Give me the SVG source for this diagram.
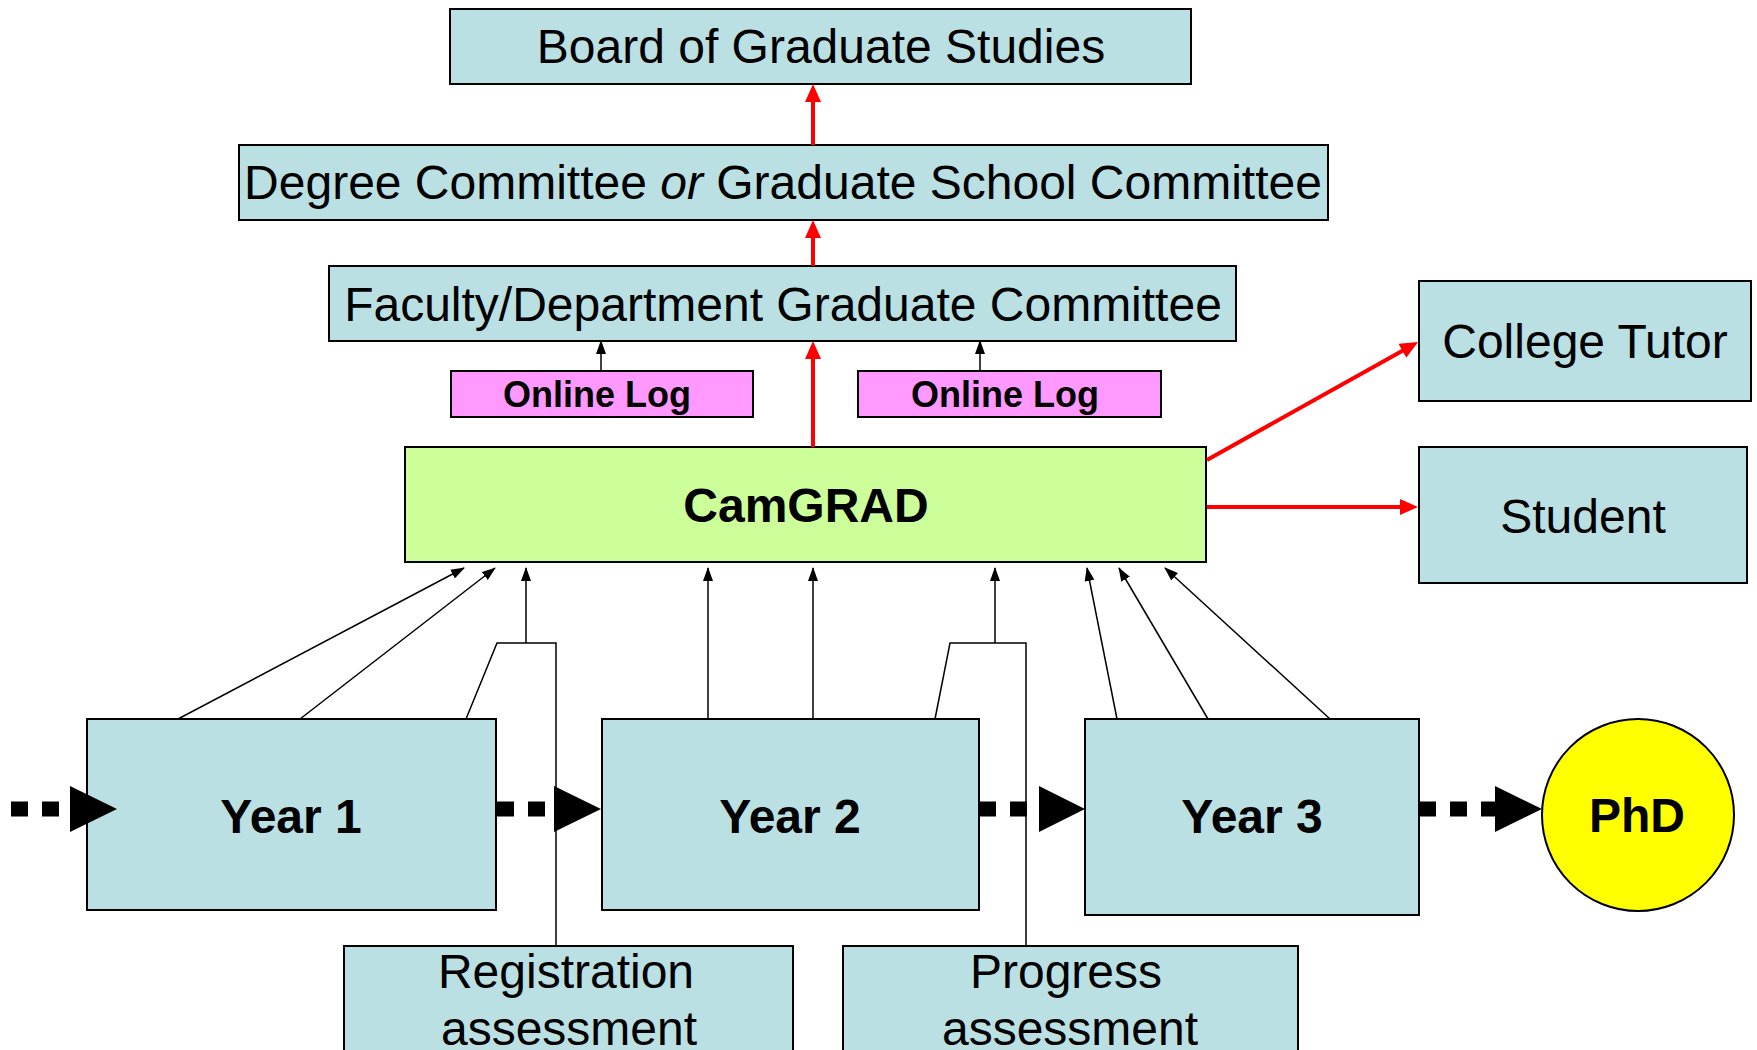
<svg xmlns="http://www.w3.org/2000/svg" width="1757" height="1050" viewBox="0 0 1757 1050">
  <style>
    .box { fill: #BBE0E3; stroke: #000; stroke-width: 2; }
    .log { fill: #FF99FF; stroke: #000; stroke-width: 2; }
    .cam { fill: #CCFF99; stroke: #000; stroke-width: 2; }
    .phd { fill: #FFFF00; stroke: #000; stroke-width: 2; }
    text { font-family: "Liberation Sans", Arial, sans-serif; fill: #000; text-anchor: middle; }
    .t48 { font-size: 48px; }
    .b48 { font-size: 48px; font-weight: bold; }
    .b36 { font-size: 36px; font-weight: bold; }
    .red { stroke: #FF0000; stroke-width: 4; fill: none; marker-end: url(#redHead); }
    .thin { stroke: #000; stroke-width: 1.5; fill: none; }
    .arr { marker-end: url(#blackHead); }
    .flow { stroke: #000; stroke-width: 15; stroke-dasharray: 17 14; fill: none; }
  </style>
  <defs>
    <marker id="redHead" markerUnits="userSpaceOnUse" markerWidth="18" markerHeight="16" refX="12" refY="8" orient="auto">
      <path d="M0,0 L18,8 L0,16 z" fill="#FF0000"/>
    </marker>
    <marker id="blackHead" markerUnits="userSpaceOnUse" markerWidth="14" markerHeight="10" refX="13" refY="5" orient="auto">
      <path d="M0,0 L14,5 L0,10 z" fill="#000"/>
    </marker>
  </defs>
  <rect width="1757" height="1050" fill="#fff"/>

  <g id="board">
    <rect class="box" x="450" y="9" width="741" height="75"/>
    <text class="t48" x="821" y="63">Board of Graduate Studies</text>
  </g>
  <g id="degree-committee">
    <rect class="box" x="239" y="145" width="1089" height="75"/>
    <text class="t48" x="783" y="199">Degree Committee <tspan font-style="italic">or</tspan> Graduate School Committee</text>
  </g>
  <g id="faculty-committee">
    <rect class="box" x="329" y="266" width="907" height="75"/>
    <text class="t48" x="783" y="321">Faculty/Department Graduate Committee</text>
  </g>
  <g id="online-log-1">
    <rect class="log" x="451" y="371" width="302" height="46"/>
    <text class="b36" x="597" y="407">Online Log</text>
  </g>
  <g id="online-log-2">
    <rect class="log" x="858" y="371" width="303" height="46"/>
    <text class="b36" x="1005" y="407">Online Log</text>
  </g>
  <g id="camgrad">
    <rect class="cam" x="405" y="447" width="801" height="115"/>
    <text class="b48" x="806" y="522">CamGRAD</text>
  </g>
  <g id="college-tutor">
    <rect class="box" x="1419" y="281" width="332" height="120"/>
    <text class="t48" x="1585" y="358">College Tutor</text>
  </g>
  <g id="student">
    <rect class="box" x="1419" y="447" width="328" height="136"/>
    <text class="t48" x="1583" y="533">Student</text>
  </g>
  <g id="year-1">
    <rect class="box" x="87" y="719" width="409" height="191"/>
    <text class="b48" x="291" y="833">Year 1</text>
  </g>
  <g id="year-2">
    <rect class="box" x="602" y="719" width="377" height="191"/>
    <text class="b48" x="790" y="833">Year 2</text>
  </g>
  <g id="year-3">
    <rect class="box" x="1085" y="719" width="334" height="196"/>
    <text class="b48" x="1252" y="833">Year 3</text>
  </g>
  <g id="phd">
    <ellipse class="phd" cx="1638" cy="815" rx="96" ry="96"/>
    <text class="b48" x="1637" y="832">PhD</text>
  </g>
  <g id="registration-assessment">
    <rect class="box" x="344" y="946" width="449" height="120"/>
    <text class="t48" x="566" y="988">Registration</text>
    <text class="t48" x="569" y="1045">assessment</text>
  </g>
  <g id="progress-assessment">
    <rect class="box" x="843" y="946" width="455" height="120"/>
    <text class="t48" x="1066" y="988">Progress</text>
    <text class="t48" x="1070" y="1045">assessment</text>
  </g>

  <g id="connectors">
    <!-- reporting chain (red) -->
    <line class="red" x1="813" y1="145" x2="813" y2="90"/>
    <line class="red" x1="813" y1="266" x2="813" y2="226"/>
    <line class="red" x1="813" y1="447" x2="813" y2="347"/>
    <line class="red" x1="1207" y1="460" x2="1412.8" y2="344.9"/>
    <line class="red" x1="1207" y1="507" x2="1412" y2="507"/>

    <!-- online logs to faculty committee -->
    <line class="thin arr" x1="601" y1="371" x2="601" y2="341"/>
    <line class="thin arr" x1="980" y1="371" x2="980" y2="341"/>

    <!-- year 1 feeds -->
    <line class="thin arr" x1="178" y1="719" x2="464" y2="568"/>
    <line class="thin arr" x1="300" y1="719" x2="495" y2="568"/>
    <polyline class="thin" points="466,719 497,643 556,643 556,946"/>
    <line class="thin arr" x1="526" y1="643" x2="526" y2="568"/>

    <!-- year 2 feeds -->
    <line class="thin arr" x1="708" y1="719" x2="708" y2="568"/>
    <line class="thin arr" x1="813" y1="719" x2="813" y2="568"/>
    <polyline class="thin" points="935,719 950,643 1026,643 1026,946"/>
    <line class="thin arr" x1="995" y1="643" x2="995" y2="568"/>

    <!-- year 3 feeds -->
    <line class="thin arr" x1="1117" y1="719" x2="1087" y2="568"/>
    <line class="thin arr" x1="1208" y1="719" x2="1119" y2="568"/>
    <line class="thin arr" x1="1330" y1="719" x2="1165" y2="568"/>

    <!-- progression through the years -->
    <line class="flow" x1="11" y1="809" x2="70" y2="809"/>
    <polygon points="70,786 70,832 117,809" fill="#000"/>
    <line class="flow" x1="497" y1="809" x2="554" y2="809"/>
    <polygon points="554,786 554,832 601,809" fill="#000"/>
    <line class="flow" x1="979" y1="809" x2="1039" y2="809"/>
    <polygon points="1039,786 1039,832 1085,809" fill="#000"/>
    <line class="flow" x1="1419" y1="809" x2="1495" y2="809"/>
    <polygon points="1495,786 1495,832 1542,809" fill="#000"/>
  </g>
</svg>
